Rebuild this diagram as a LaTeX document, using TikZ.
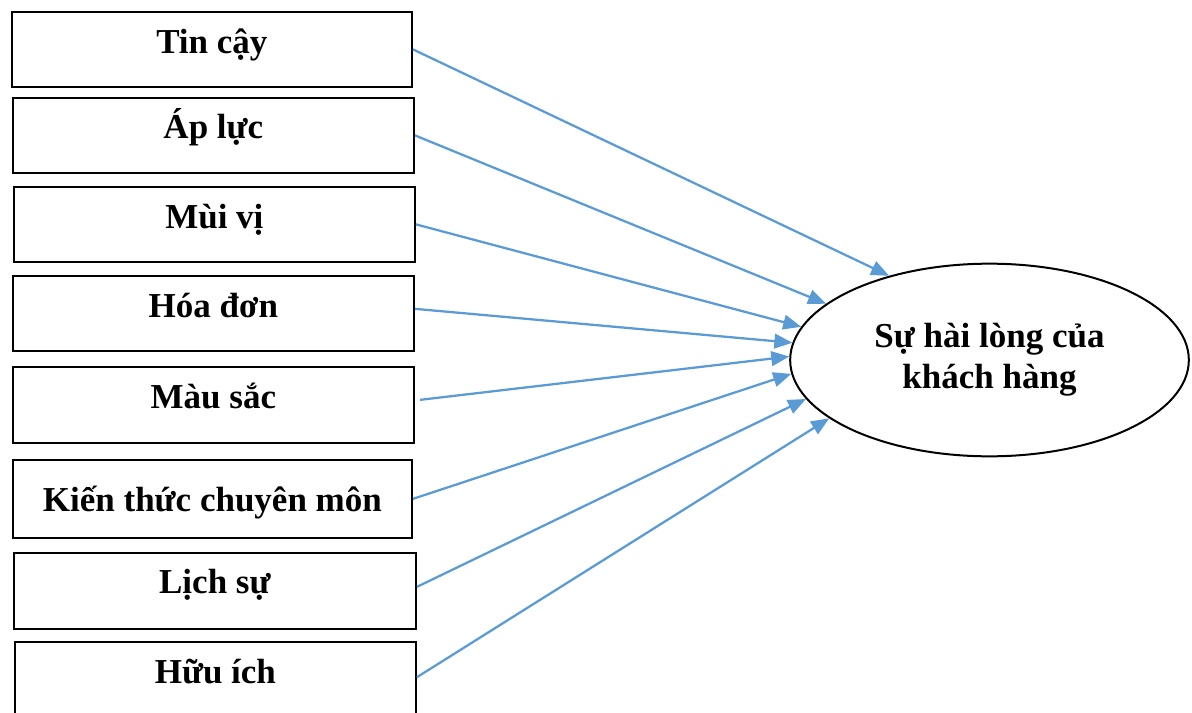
\documentclass[tikz,border=0pt]{standalone}
\usepackage{fontspec}
\setmainfont{Liberation Serif}
\usetikzlibrary{shapes.geometric,arrows.meta}
\definecolor{arrowblue}{HTML}{5B9BD5}
\begin{document}
\begin{tikzpicture}[x=0.75pt,y=-0.75pt,
  factor/.style={draw=black,line width=1.6pt,rectangle,anchor=north west,
    inner xsep=0pt,inner ysep=0pt,align=center,
    font=\fontsize{26.25pt}{30.75pt}\selectfont\bfseries},
  outcome/.style={draw=black,line width=1.5pt,ellipse,inner sep=0pt,
    minimum width=299pt,minimum height=144.5pt,align=center,
    font=\fontsize{26.25pt}{30.75pt}\selectfont\bfseries},
  link/.style={draw=arrowblue,line width=1.7pt,-{Triangle[length=13.5pt,width=11pt]}}]
\useasboundingbox (0,0) rectangle (1192,713);
\node[factor,minimum width=300pt,text height=31.5pt,text depth=24.75pt] (b1) at (10.8,10.8) {Tin cậy};
\node[factor,minimum width=300.75pt,text height=30.75pt,text depth=25.5pt] (b2) at (11.8,96.8) {Áp lực};
\node[factor,minimum width=300.75pt,text height=31.5pt,text depth=24.75pt] (b3) at (12.8,185.8) {Mùi vị};
\node[factor,minimum width=300.75pt,text height=31.5pt,text depth=24.75pt] (b4) at (11.8,274.8) {Hóa đơn};
\node[factor,minimum width=300.75pt,text height=31.5pt,text depth=25.5pt] (b5) at (11.8,365.8) {Màu sắc};
\node[factor,minimum width=299.25pt,text height=39pt,text depth=19.5pt] (b6) at (11.8,458.8) {Kiến thức chuyên môn};
\node[factor,minimum width=301.5pt,text height=30.75pt,text depth=26.25pt] (b7) at (12.8,551.8) {Lịch sự};
\node[factor,minimum width=300.75pt,text height=31.5pt,text depth=25.5pt] (b8) at (13.8,640.8) {Hữu ích};
\node[outcome] (e) at (989.5,360) {Sự hài lòng của\\khách hàng};
\draw[link] (b1.east) -- (e.140.8);
\draw[link] (b2.east) -- (e.161.2);
\draw[link] (b3.east) -- (e.170);
\draw[link] ([yshift=3.4pt]b4.east) -- (e.175.1);
\draw[link] ([xshift=3.75pt,yshift=3.75pt]b5.east) -- (e.179.4);
\draw[link] (b6.east) -- (e.184.3);
\draw[link] ([yshift=3pt]b7.east) -- (e.192.4);
\draw[link] ([yshift=2pt]b8.east) -- (e.200);
\end{tikzpicture}
\end{document}
